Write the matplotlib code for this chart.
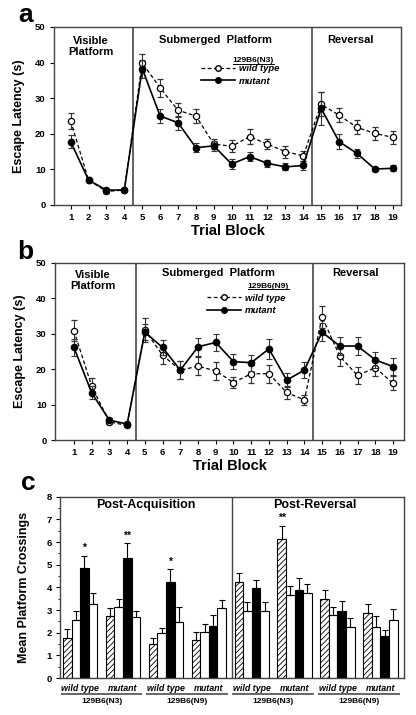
import numpy as np
import matplotlib
matplotlib.use('Agg')
import matplotlib.pyplot as plt
from matplotlib.lines import Line2D
import matplotlib.transforms as mtransforms

plt.rcParams['font.family'] = ['Liberation Sans', 'DejaVu Sans']
plt.rcParams['font.weight'] = 'bold'
plt.rcParams['axes.labelweight'] = 'bold'
plt.rcParams['hatch.linewidth'] = 0.6

# ---- data ----
blocks = np.arange(1, 20)

# panel a : 129B6(N3)
a_wt = [23.6, 7.0, 3.8, 4.2, 39.9, 32.9, 26.6, 25.0, 17.1, 16.5, 19.2, 17.1, 15.0, 13.8, 28.3, 25.2, 21.8, 20.1, 19.0]
a_wt_err = [2.2, 0.6, 0.5, 0.4, 2.5, 2.5, 2.0, 2.0, 1.5, 1.7, 2.2, 1.3, 1.7, 1.5, 3.3, 2.0, 2.0, 1.8, 1.8]
a_mut = [17.8, 7.0, 4.2, 4.2, 38.3, 25.0, 23.1, 16.1, 16.6, 11.5, 13.6, 11.7, 10.7, 11.1, 27.1, 17.8, 14.5, 10.1, 10.3]
a_mut_err = [1.8, 0.5, 0.4, 0.3, 2.5, 2.0, 2.0, 1.3, 1.5, 1.3, 1.3, 1.0, 1.0, 1.3, 4.5, 2.0, 1.3, 0.6, 0.8]

# panel b : 129B6(N9)
b_wt = [30.8, 15.2, 5.1, 4.1, 31.0, 23.9, 19.7, 20.8, 19.5, 16.2, 18.7, 18.7, 13.4, 11.3, 34.7, 23.6, 18.2, 20.4, 16.0]
b_wt_err = [3.0, 2.2, 0.5, 0.4, 3.3, 2.5, 2.5, 2.5, 2.5, 1.5, 2.5, 2.5, 1.8, 1.5, 3.0, 2.7, 2.5, 2.3, 2.0]
b_mut = [26.1, 13.3, 5.6, 4.5, 30.4, 26.1, 19.7, 26.3, 27.5, 22.1, 21.8, 25.7, 16.9, 19.7, 30.4, 26.5, 26.5, 22.6, 20.7]
b_mut_err = [2.5, 1.8, 0.5, 0.4, 2.2, 2.2, 2.5, 2.5, 2.5, 2.2, 2.3, 2.8, 2.0, 2.3, 2.5, 2.5, 2.6, 2.3, 2.3]

# panel c : mean platform crossings, 8 groups x 4 bars (hatched, white, black, white)
c_groups = ['wild type', 'mutant', 'wild type', 'mutant', 'wild type', 'mutant', 'wild type', 'mutant']
c_strains = ['129B6(N3)', '129B6(N9)', '129B6(N3)', '129B6(N9)']
c_vals = [
    [1.75, 2.55, 4.85, 3.25],
    [2.75, 3.15, 5.3, 2.7],
    [1.48, 1.97, 4.25, 2.47],
    [1.69, 2.04, 2.29, 3.07],
    [4.25, 2.97, 3.97, 2.97],
    [6.15, 3.66, 3.88, 3.74],
    [3.47, 2.77, 2.97, 2.26],
    [2.85, 2.26, 1.85, 2.58],
]
c_err = [
    [0.4, 0.4, 0.55, 0.5],
    [0.35, 0.35, 0.65, 0.27],
    [0.3, 0.25, 0.55, 0.68],
    [0.33, 0.35, 0.5, 0.36],
    [0.37, 0.38, 0.36, 0.37],
    [0.56, 0.42, 0.52, 0.4],
    [0.4, 0.36, 0.45, 0.37],
    [0.4, 0.47, 0.27, 0.47],
]
c_stars = {(0, 2): '*', (1, 2): '**', (2, 2): '*', (5, 0): '**'}

fig = plt.figure(figsize=(4.16, 7.15), dpi=100)
dark = '#333333'


def bold_ticks(ax):
    for lab in ax.get_xticklabels() + ax.get_yticklabels():
        lab.set_fontweight('bold')


def latency_panel(rect, xlim, wt, wt_err, mut, mut_err, strain, leg_xy, title_xy, titles):
    ax = fig.add_axes(rect)
    ax.errorbar(blocks, wt, yerr=wt_err, color='black', ls=(0, (3, 2)), lw=0.9,
                marker='o', mfc='white', mec='black', ms=4.5, mew=0.9,
                ecolor=dark, elinewidth=0.8, capsize=2, capthick=0.8, zorder=3)
    ax.errorbar(blocks, mut, yerr=mut_err, color='black', ls='-', lw=1.2,
                marker='o', mfc='black', mec='black', ms=4.5,
                ecolor=dark, elinewidth=0.8, capsize=2, capthick=0.8, zorder=4)
    for xv in (4.5, 14.5):
        ax.axvline(xv, color='#555555', lw=1.3)
    ax.set_xlim(*xlim)
    ax.set_ylim(0, 50)
    ax.set_xticks(blocks)
    ax.set_yticks(range(0, 51, 10))
    ax.tick_params(labelsize=6.8, length=3, width=0.8, colors='black', pad=3)
    bold_ticks(ax)
    for s in ax.spines.values():
        s.set_color('#444444')
        s.set_linewidth(1.0)
    ax.set_ylabel('Escape Latency (s)', fontsize=9, labelpad=7)
    ax.set_xlabel('Trial Block', fontsize=10.5, labelpad=1)
    for (tx, ty, t) in titles:
        ax.text(tx, ty, t, ha='center', va='center', fontsize=8, linespacing=1.05)
    handles = [Line2D([], [], color='black', ls=(0, (3, 2)), lw=0.9, marker='o', mfc='white',
                      mec='black', ms=4),
               Line2D([], [], color='black', ls='-', lw=1.2, marker='o', mfc='black', ms=4)]
    ax.legend(handles, ['wild type', 'mutant'], loc='upper left', bbox_to_anchor=leg_xy,
              frameon=False, handlelength=3.6, handletextpad=0.4, labelspacing=0.35,
              borderpad=0, borderaxespad=0,
              prop={'style': 'italic', 'weight': 'bold', 'size': 6.8})
    t = ax.text(title_xy[0], title_xy[1], strain, transform=ax.transAxes, fontsize=6,
                ha='left', va='center')
    return ax, t


ax_a, ta = latency_panel([0.1298, 0.7133, 0.8341, 0.2490], (0.07, 19.46), a_wt, a_wt_err, a_mut, a_mut_err,
                         '129B6(N3)', (0.425, 0.79), (0.515, 0.809),
                         [(2.15, 44.5, 'Visible\nPlatform'), (9.1, 46.4, 'Submerged  Platform'),
                          (16.66, 46.4, 'Reversal')])
ax_b, tb = latency_panel([0.1322, 0.3846, 0.8389, 0.2480], (-0.07, 19.62), b_wt, b_wt_err, b_mut, b_mut_err,
                         '129B6(N9)', (0.435, 0.825), (0.552, 0.865),
                         [(2.05, 45.0, 'Visible\nPlatform'), (9.13, 47.0, 'Submerged  Platform'),
                          (16.9, 47.0, 'Reversal')])

# ---- panel c ----
ax_c = fig.add_axes([0.1442, 0.0517, 0.8269, 0.2536])
w = 0.2
offsets = np.array([-1.5, -0.5, 0.5, 1.5]) * w
styles = [dict(color='white', hatch='//////'), dict(color='white'), dict(color='black'), dict(color='white')]
for g in range(len(c_vals)):
    for k in range(4):
        xv = g + offsets[k]
        ax_c.bar(xv, c_vals[g][k], width=w, edgecolor='black', linewidth=0.8,
                 facecolor=styles[k]['color'], hatch=styles[k].get('hatch'), zorder=2)
        ax_c.errorbar(xv, c_vals[g][k], yerr=[[0], [c_err[g][k]]], color='black',
                      elinewidth=0.8, capsize=2.2, capthick=0.8, zorder=3)
        if (g, k) in c_stars:
            ax_c.text(xv, c_vals[g][k] + c_err[g][k] + 0.12, c_stars[(g, k)],
                      ha='center', va='bottom', fontsize=7.5)
ax_c.axvline(3.53, color='#444444', lw=1.0)
ax_c.set_xlim(-0.47, 7.55)
ax_c.set_ylim(0, 8)
ax_c.set_xticks([])
ax_c.set_yticks(range(0, 9))
ax_c.set_yticks(np.arange(0.5, 8, 1.0), minor=True)
ax_c.tick_params(axis='y', labelsize=6.8, length=3, width=0.8, pad=3)
ax_c.tick_params(axis='y', which='minor', length=1.5, width=0.6)
bold_ticks(ax_c)
for s in ax_c.spines.values():
    s.set_color('#444444')
    s.set_linewidth(1.0)
ax_c.set_ylabel('Mean Platform Crossings', fontsize=9, labelpad=12)
ax_c.text(1.52, 7.63, 'Post-Acquisition', ha='center', va='center', fontsize=9)
ax_c.text(5.47, 7.63, 'Post-Reversal', ha='center', va='center', fontsize=9)

trans = mtransforms.blended_transform_factory(ax_c.transData, ax_c.transAxes)
for g, name in enumerate(c_groups):
    ax_c.text(g, -0.055, name, transform=trans, ha='center', va='center',
              fontsize=6.4, style='italic')
for p, strain in enumerate(c_strains):
    x0, x1 = 2 * p - 0.43, 2 * p + 1 + 0.43
    ax_c.plot([x0, x1], [-0.088, -0.088], transform=trans, color='#666666', lw=1.4, clip_on=False)
    ax_c.text(2 * p + 0.5, -0.132, strain, transform=trans, ha='center', va='center', fontsize=6)

# panel letters
fig.text(0.062, 0.979, 'a', fontsize=19, ha='center', va='center')
fig.text(0.062, 0.648, 'b', fontsize=19, ha='center', va='center')
fig.text(0.067, 0.325, 'c', fontsize=19, ha='center', va='center')

# underline the strain headers of the legends
fig.canvas.draw()
r = fig.canvas.get_renderer()
for t in (ta, tb):
    bb = t.get_window_extent(r).transformed(fig.transFigure.inverted())
    fig.add_artist(Line2D([bb.x0, bb.x1], [bb.y0 + 0.001, bb.y0 + 0.001], color='black', lw=0.7))

fig.savefig('out.png', dpi=100)
